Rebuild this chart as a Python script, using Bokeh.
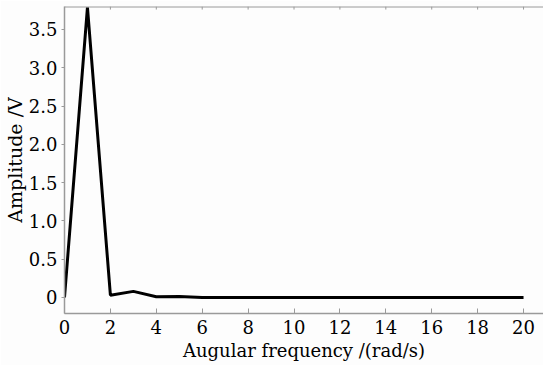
from bokeh.plotting import figure
from bokeh.models import FixedTicker, Range1d, Span
from bokeh.embed import file_html
from bokeh.resources import INLINE

freq = [0, 1, 2, 3, 4, 5, 6, 7, 8, 9, 10, 11, 12, 13, 14, 15, 16, 17, 18, 19, 20]
amplitude = [0.0, 3.79, 0.03, 0.08, 0.01, 0.012, 0.0, 0.0, 0.0, 0.0, 0.0,
             0.0, 0.0, 0.0, 0.0, 0.0, 0.0, 0.0, 0.0, 0.0, 0.0]
x_ticks = [0, 2, 4, 6, 8, 10, 12, 14, 16, 18, 20]
y_ticks = [0, 0.5, 1.0, 1.5, 2.0, 2.5, 3.0, 3.5]
y_tick_labels = {0: "0", 0.5: "0.5", 1.0: "1.0", 1.5: "1.5", 2.0: "2.0",
                 2.5: "2.5", 3.0: "3.0", 3.5: "3.5"}

FONT = "DejaVu Serif"
GREY = "#9a9a9a"
Y_TOP = 3.80

p = figure(width=543, height=365, output_backend="svg", toolbar_location=None,
           x_range=Range1d(0, 20.87), y_range=Range1d(-0.209, Y_TOP),
           min_border_left=64, min_border_right=0, min_border_top=6, min_border_bottom=52,
           background_fill_color="#fdfdfd", border_fill_color="#fdfdfd")

p.line(freq, amplitude, line_color="black", line_width=3)

# top frame line with small inward ticks
p.add_layout(Span(location=Y_TOP, dimension="width", line_color=GREY, line_width=2))
tick_len = 0.04
p.segment(x0=x_ticks, x1=x_ticks, y0=[Y_TOP] * len(x_ticks),
          y1=[Y_TOP - tick_len] * len(x_ticks), line_color=GREY, line_width=1)

p.xgrid.visible = False
p.ygrid.visible = False
p.outline_line_color = None

xa = p.xaxis[0]
xa.ticker = FixedTicker(ticks=x_ticks)
xa.axis_label = "Augular frequency /(rad/s)"
xa.major_tick_in = 5
xa.major_tick_out = 0
xa.minor_tick_line_color = None
xa.axis_line_color = GREY
xa.axis_line_width = 1.5
xa.major_tick_line_color = GREY
xa.major_label_text_font = FONT
xa.major_label_text_font_size = "18px"
xa.major_label_text_color = "black"
xa.axis_label_text_font = FONT
xa.axis_label_text_font_size = "18px"
xa.axis_label_text_font_style = "normal"
xa.axis_label_text_color = "black"
xa.major_label_standoff = 6
xa.axis_label_standoff = 3

ya = p.yaxis[0]
ya.ticker = FixedTicker(ticks=y_ticks)
ya.major_label_overrides = y_tick_labels
ya.axis_label = "Amplitude /V"
ya.major_tick_in = 0
ya.major_tick_out = 3
ya.minor_tick_line_color = None
ya.axis_line_color = GREY
ya.axis_line_width = 1.5
ya.major_tick_line_color = GREY
ya.major_label_text_font = FONT
ya.major_label_text_font_size = "18px"
ya.major_label_text_color = "black"
ya.axis_label_text_font = FONT
ya.axis_label_text_font_size = "19px"
ya.axis_label_text_font_style = "normal"
ya.axis_label_text_color = "black"
ya.major_label_standoff = 4
ya.axis_label_standoff = 0

open("out.html", "w").write(file_html(p, INLINE))
